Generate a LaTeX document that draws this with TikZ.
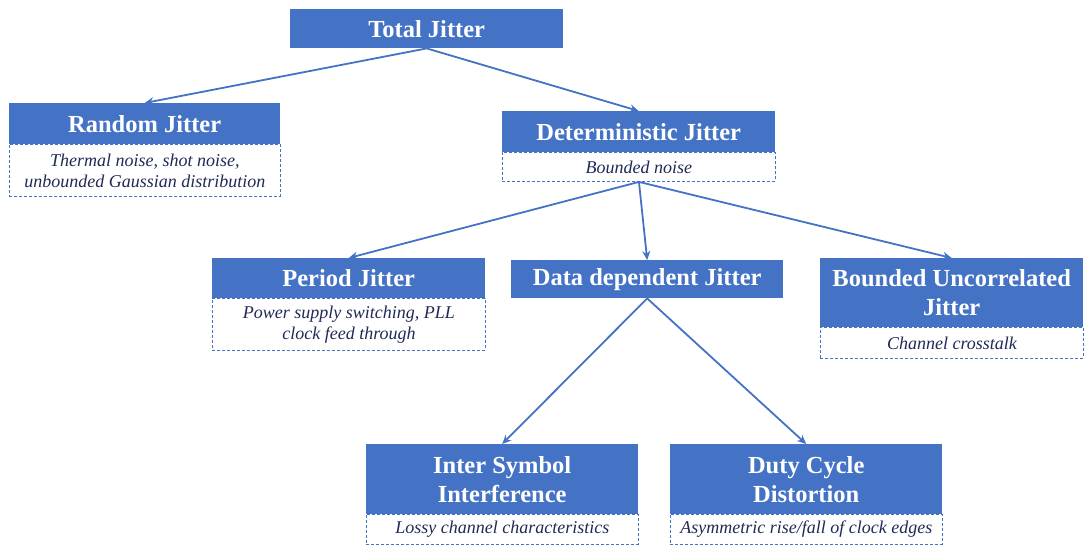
\documentclass[tikz,border=0pt]{standalone}
\usepackage{fontspec}
\setmainfont{Liberation Serif}
\usetikzlibrary{arrows.meta}
\definecolor{jblue}{HTML}{4472C4}
\definecolor{jtext}{HTML}{1F2A55}
\tikzset{
  titlebox/.style={fill=jblue, draw=none, text=white, inner sep=0pt, anchor=north west,
    align=center, font=\fontsize{24.5}{29}\selectfont\bfseries},
  descbox/.style={draw=jblue, dashed, dash pattern=on 3pt off 2pt, line width=0.9pt, text=jtext,
    inner sep=0pt, anchor=north west, align=center, font=\fontsize{18}{21}\selectfont\itshape},
  conn/.style={draw=jblue, line width=1.8pt, -{Stealth[length=9pt,width=8pt]}}
}
\begin{document}
\begin{tikzpicture}[x=1pt,y=-1pt]
\useasboundingbox (0,0) rectangle (1084,545);
% Total
\node[titlebox, minimum width=273pt, minimum height=39pt] (tj) at (290,9) {\raisebox{-2pt}{Total Jitter}};
% Random
\node[titlebox, minimum width=271pt, minimum height=41pt] (rj) at (9,103) {\raisebox{-1pt}{Random Jitter}};
\node[descbox, minimum width=271pt, minimum height=52pt] (rjd) at (9,144) {Thermal noise, shot noise,\\unbounded Gaussian distribution};
% Deterministic
\node[titlebox, minimum width=273pt, minimum height=41pt] (dj) at (502,111) {\raisebox{-1pt}{Deterministic Jitter}};
\node[descbox, minimum width=273pt, minimum height=29pt] (djd) at (502,152) {Bounded noise};
% Period
\node[titlebox, minimum width=273pt, minimum height=40pt] (pj) at (212,258) {\raisebox{-1pt}{Period Jitter}};
\node[descbox, minimum width=273pt, minimum height=52pt] (pjd) at (212,298) {Power supply switching, PLL\\clock feed through};
% Data dependent
\node[titlebox, minimum width=272pt, minimum height=38pt] (ddj) at (511,260) {\raisebox{-1pt}{Data dependent Jitter}};
% Bounded uncorrelated
\node[titlebox, minimum width=263pt, minimum height=69pt] (buj) at (820,258) {Bounded Uncorrelated\\Jitter};
\node[descbox, minimum width=263pt, minimum height=31pt] (bujd) at (820,327) {Channel crosstalk};
% ISI
\node[titlebox, minimum width=272pt, minimum height=70pt] (isi) at (366,444) {Inter Symbol\\Interference};
\node[descbox, minimum width=272pt, minimum height=30pt] (isid) at (366,514) {Lossy channel characteristics};
% DCD
\node[titlebox, minimum width=272pt, minimum height=70pt] (dcd) at (670,444) {Duty Cycle\\Distortion};
\node[descbox, minimum width=272pt, minimum height=30pt] (dcdd) at (670,514) {Asymmetric rise/fall of clock edges};
% connectors
\draw[conn] (tj.south) -- (rj.north);
\draw[conn] (tj.south) -- (dj.north);
\draw[conn] (djd.south) -- (pj.north);
\draw[conn] (djd.south) -- (ddj.north);
\draw[conn] (djd.south) -- (buj.north);
\draw[conn] (ddj.south) -- (isi.north);
\draw[conn] (ddj.south) -- (dcd.north);
\end{tikzpicture}
\end{document}
